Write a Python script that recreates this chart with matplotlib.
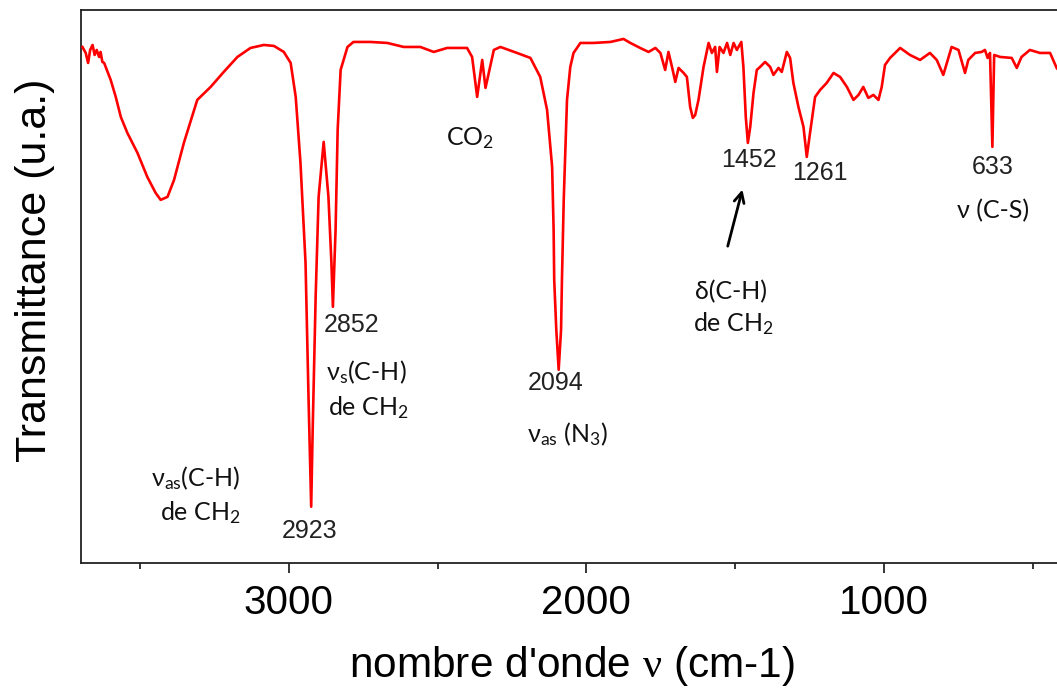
import numpy as np
import matplotlib
matplotlib.use("Agg")
import matplotlib.pyplot as plt
import matplotlib.font_manager as fm

# IR spectrum: wavenumber (cm-1) and transmittance (u.a.)
wavenumber = [
    3694, 3683, 3675, 3668, 3660, 3653, 3646, 3638, 3633, 3627, 3621,
    3599, 3582, 3565, 3543, 3509, 3476, 3448, 3431, 3408, 3386, 3353,
    3308, 3263, 3219, 3173, 3129, 3084, 3050, 3017,
    2994, 2977, 2961, 2944, 2934, 2925, 2920, 2910, 2900, 2883, 2867,
    2857, 2852, 2843, 2836, 2826, 2803, 2783, 2759, 2726, 2669, 2614,
    2558, 2513, 2468, 2401, 2384, 2367, 2350, 2339, 2311, 2289, 2233,
    2188, 2155, 2132, 2115, 2110, 2108, 2101, 2093, 2085, 2082, 2076,
    2065, 2054, 2043, 2020, 1976, 1919, 1875, 1852, 1819, 1791, 1768,
    1751, 1735, 1724, 1712, 1701, 1690, 1673, 1662, 1651, 1642, 1634,
    1623, 1606, 1589, 1578, 1567, 1561, 1552, 1539, 1527, 1516, 1505,
    1494, 1479, 1472, 1464, 1457, 1449, 1438, 1427, 1416, 1399, 1382,
    1371, 1354, 1343, 1326, 1315, 1304, 1287, 1270, 1259, 1248, 1231,
    1214, 1192, 1169, 1147, 1124, 1102, 1085, 1069, 1052, 1035, 1018,
    1007, 996, 979, 945, 912, 878, 845, 822, 800, 772, 749, 727, 716,
    693, 671, 660, 651, 643, 635, 629, 609, 570, 553, 537, 509, 475,
    441, 419, 405,
]
transmittance = [
    516, 510, 500, 513, 518, 508, 513, 506, 511, 501, 500,
    483, 466, 446, 430, 410, 386, 370, 363, 366, 383, 420,
    463, 476, 491, 506, 515, 518, 517, 511,
    500, 466, 400, 300, 166, 56, 133, 266, 366, 421, 366,
    300, 256, 333, 433, 493, 516, 521, 521, 521, 520, 516,
    516, 511, 515, 515, 506, 466, 503, 475, 513, 516, 510,
    505, 486, 453, 396, 333, 283, 233, 193, 233, 283, 363,
    463, 496, 510, 520, 520, 521, 524, 520, 515, 511, 515,
    510, 493, 511, 496, 481, 495, 490, 486, 456, 445, 448,
    463, 496, 520, 510, 516, 491, 516, 510, 520, 508, 520,
    513, 521, 496, 446, 420, 436, 470, 493, 496, 501, 496,
    488, 495, 491, 511, 505, 480, 456, 436, 406, 430, 466,
    473, 480, 490, 486, 476, 463, 468, 476, 465, 468, 463,
    476, 498, 505, 515, 508, 503, 510, 503, 488, 516, 513, 490, 503,
    510, 511, 513, 505, 510, 416, 508, 506, 505, 495, 506, 513, 510,
    510, 495, 490,
]

# peak positions written under the dips, and the band assignments
peak_numbers = [
    ("2852", 2789, 238), ("2923", 2930, 32), ("2094", 2104, 180),
    ("1452", 1453, 403), ("1261", 1215, 390), ("633", 633, 396),
]
band_labels = [
    ("CO$_2$", 2390, 425),
    ("ν$_\\mathrm{s}$(C-H)", 2739, 191), ("de CH$_2$", 2732, 155),
    ("ν$_\\mathrm{as}$(C-H)", 3313, 85), ("de CH$_2$", 3297, 50),
    ("ν$_\\mathrm{as}$ (N$_3$)", 2064, 129),
    ("ν (C-S)", 633, 352),
    ("δ(C-H)", 1513, 271), ("de CH$_2$", 1506, 239),
]
arrow_tail = (1527, 314)
arrow_head = (1473, 376)

available = {f.name for f in fm.fontManager.ttflist}
label_font = "Lato" if "Lato" in available else "Open Sans"

plt.rcParams["mathtext.fontset"] = "custom"
plt.rcParams["mathtext.rm"] = label_font
plt.rcParams["mathtext.it"] = label_font
plt.rcParams["mathtext.sf"] = "Liberation Serif"
plt.rcParams["mathtext.default"] = "regular"

fig = plt.figure(figsize=(10.57, 6.97), dpi=100)
ax = fig.add_axes([0.0763, 0.1927, 0.9287, 0.793])

ax.plot(wavenumber, transmittance, color="#FF0000", lw=1.9, zorder=3)

ax.set_xlim(3700, 400)
ax.set_ylim(0, 553)
ax.set_yticks([])
ax.set_xticks([3000, 2000, 1000])
ax.set_xticks([3500, 2500, 1500, 500], minor=True)
ax.tick_params(axis="x", which="major", direction="out", length=7.5, width=1.1,
               pad=8, labelsize=29)
ax.tick_params(axis="x", which="minor", direction="out", length=4.5, width=1.1)
for lab in ax.get_xticklabels():
    lab.set_fontfamily("Liberation Sans")
for sp in ax.spines.values():
    sp.set_linewidth(1.3)
    sp.set_color("#222222")

ax.set_xlabel("nombre d'onde $\\mathsf{\\nu}$ (cm-1)", fontsize=30.5,
              family="Liberation Sans", labelpad=16)
fig.text(0.033, 0.612, "Transmittance (u.a.)", rotation=90, fontsize=31,
         family="Liberation Sans", ha="center", va="center")

for txt, x, y in peak_numbers:
    ax.text(x, y, txt, fontsize=18, family="Liberation Sans", color="#222222",
            ha="center", va="center")
for txt, x, y in band_labels:
    ax.text(x, y, txt, fontsize=18, family=[label_font, "DejaVu Sans"],
            color="#111111", ha="center", va="center")

ax.annotate("", xy=arrow_head, xytext=arrow_tail,
            arrowprops=dict(arrowstyle="->", color="black", lw=2,
                            mutation_scale=18))

fig.savefig("out.png", dpi=100)
